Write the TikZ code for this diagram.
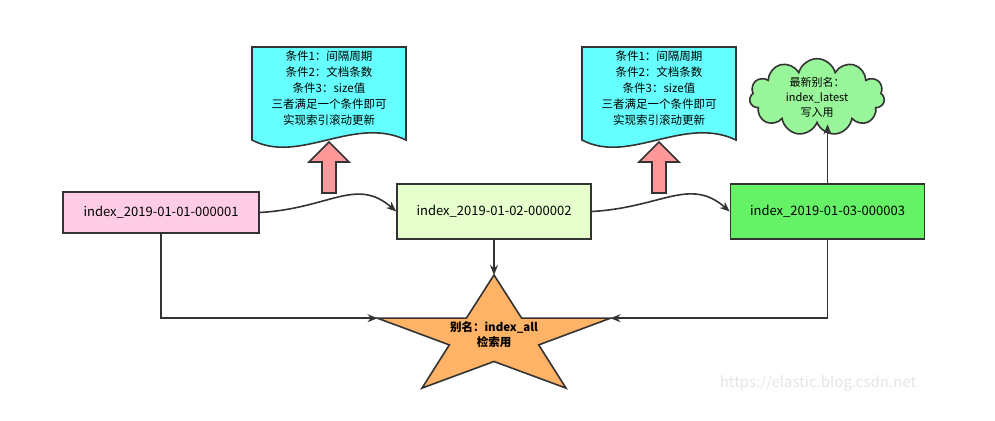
\documentclass[tikz,border=0pt]{standalone}
\usepackage{fontspec}
\setmainfont{Noto Sans CJK SC}
\usetikzlibrary{arrows.meta,shapes.symbols}

\definecolor{linegray}{HTML}{333333}
\definecolor{pinkfill}{HTML}{FFCCE6}
\definecolor{limefill}{HTML}{E6FFCC}
\definecolor{greenfill}{HTML}{66F266}
\definecolor{cyanfill}{HTML}{66FFFF}
\definecolor{cloudfill}{HTML}{99F599}
\definecolor{starfill}{HTML}{FFB366}
\definecolor{blockfill}{HTML}{FF9999}

\begin{document}
\begin{tikzpicture}
[x=1pt, y=-1pt, line width=1.6pt, font=\fontsize{12}{15}\selectfont,
 >={Stealth[length=10pt,width=8pt]}]

\tikzstyle{index}=[draw=linegray, inner sep=0, minimum width=194, minimum height=55, font=\fontsize{13}{15}\selectfont]
\tikzstyle{link}=[draw=linegray, ->]
\tikzstyle{doc}=[draw=linegray, fill=cyanfill]
\tikzstyle{block}=[draw=linegray, fill=blockfill]

\useasboundingbox (0,0) rectangle (995,420);

% index nodes
\node[index, fill=pinkfill, minimum width=196, minimum height=41]	(idx1)	at (161,212.5)	{index\_2019-01-01-000001};
\node[index, fill=limefill]	(idx2)	at (494,211.5)	{index\_2019-01-02-000002};
\node[index, fill=greenfill]	(idx3)	at (827.5,211.5)	{index\_2019-01-03-000003};

% rollover conditions
\foreach \cx/\nm in {329/condA, 659/condB}{
  \filldraw[doc] (\cx-77,47) -- (\cx+77,47) -- (\cx+77,140)
    .. controls (\cx+25,115) and (\cx-30,165) .. (\cx-77,140) -- cycle;
  \node[align=center, inner sep=0, font=\fontsize{11.5}{16}\selectfont] (\nm) at (\cx,88)
    {条件1：间隔周期\\条件2：文档条数\\条件3：size值\\三者满足一个条件即可\\实现索引滚动更新};
  \filldraw[block] (\cx-7,193) -- (\cx+7,193) -- (\cx+7,162) -- (\cx+20,162)
    -- (\cx,142) -- (\cx-20,162) -- (\cx-7,162) -- cycle;
}

% write alias
\node[cloud, cloud puffs=11, aspect=1.8, draw=linegray, fill=cloudfill, inner sep=0,
  minimum width=135, minimum height=72, align=center, font=\fontsize{11}{15}\selectfont]
  (latest) at (817,97) {最新别名：\\index\_latest\\写入用};

% search alias
\filldraw[draw=linegray, fill=starfill] (494,275) coordinate (starT) -- (466.4,318.1)
  -- (377.5,318.2) coordinate (starL) -- (449.3,344.9) -- (422,388.1) -- (494,361.5)
  -- (566,388.1) -- (538.7,344.9) -- (610.5,318.2) coordinate (starR) -- (521.6,318.1) -- cycle;
\node[align=center, inner sep=0, font=\bfseries\fontsize{11.5}{15}\selectfont] (alias) at (494,335)
  {别名：index\_all\\检索用};

\draw [link] (idx1.east) .. controls +(70,-4) and +(-40,-35) .. (idx2.west);
\draw [link] (idx2.east) .. controls +(70,-4) and +(-40,-35) .. (idx3.west);
\draw [link] (idx1.south) |- (starL);
\draw [link] (idx3.south) |- (starR);
\draw [link] (idx2.south) -- (starT);
\draw [link] (idx3.north) -- (idx3.north |- latest.south);

\node[text=black!10, font=\fontsize{15}{18}\selectfont] (mark) at (818,383) {https://elastic.blog.csdn.net};
\end{tikzpicture}
\end{document}
